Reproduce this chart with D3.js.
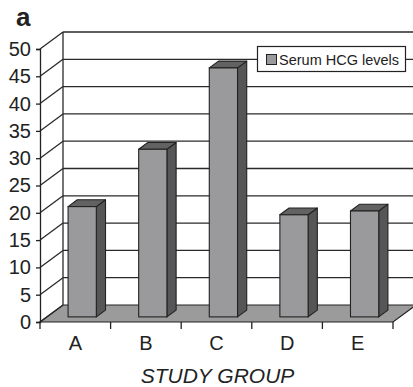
<!DOCTYPE html>
<html>
<head>
<meta charset="utf-8">
<script src="https://cdn.jsdelivr.net/npm/d3@7"></script>
<style>
  html, body { margin: 0; padding: 0; background: #fff; }
  svg { display: block; font-family: "Liberation Sans", Arial, sans-serif; }
</style>
</head>
<body>
<svg id="chart" width="413" height="387"></svg>
<script>
// Serum HCG levels per study group
const categories = ["A", "B", "C", "D", "E"];
const hcgValues = [20.2, 30.7, 45.6, 18.7, 19.4];
const yTicks = [0, 5, 10, 15, 20, 25, 30, 35, 40, 45, 50];
const seriesName = "Serum HCG levels";
const xTitle = "STUDY GROUP";
const panelLabel = "a";

const svg = d3.select("#chart");
const ink = "#222";

// front plane of the 3-D box
const plotLeft = 40, plotRight = 393, plotBottom = 322, plotTop = 49;
// depth of the box (shift of the back wall)
const depthX = 23, depthY = -17;

const x = d3.scaleBand().domain(categories).range([plotLeft, plotRight]).paddingInner(0).paddingOuter(0);
const y = d3.scaleLinear().domain([0, 50]).range([plotBottom, plotTop]);

const g = svg.append("g");

// floor
g.append("path")
  .attr("d", `M${plotLeft},${plotBottom} L${plotRight},${plotBottom} L${plotRight + depthX},${plotBottom + depthY} L${plotLeft + depthX},${plotBottom + depthY} Z`)
  .attr("fill", "#9b9b9b")
  .attr("stroke", ink).attr("stroke-width", 1.2);

// back wall gridlines and left wall diagonals
yTicks.forEach(v => {
  const yy = y(v);
  if (v > 0) {
    g.append("line")
      .attr("x1", plotLeft + depthX).attr("x2", 420)
      .attr("y1", yy + depthY).attr("y2", yy + depthY)
      .attr("stroke", "#2a2a2a").attr("stroke-width", 1.3);
  }
  g.append("line")
    .attr("x1", plotLeft).attr("y1", yy)
    .attr("x2", plotLeft + depthX).attr("y2", yy + depthY)
    .attr("stroke", "#2a2a2a").attr("stroke-width", 1.3);
});

// back wall left edge
g.append("line")
  .attr("x1", plotLeft + depthX).attr("x2", plotLeft + depthX)
  .attr("y1", y(50) + depthY).attr("y2", y(0) + depthY)
  .attr("stroke", "#2a2a2a").attr("stroke-width", 1.3);

// legend (sits on the back wall)
const legend = g.append("g");
legend.append("rect")
  .attr("x", 257.5).attr("y", 46.5).attr("width", 148).attr("height", 25)
  .attr("fill", "#fff").attr("stroke", ink).attr("stroke-width", 1.2);
legend.append("rect")
  .attr("x", 266.5).attr("y", 54.5).attr("width", 10).attr("height", 10)
  .attr("fill", "#9a9a9c").attr("stroke", ink).attr("stroke-width", 1);
legend.append("text")
  .attr("x", 279).attr("y", 64.5)
  .attr("font-size", 14.5).attr("fill", ink)
  .text(seriesName);

// 3-D bars: front face placed 30% into the depth, 40% deep
const f0 = 0.3, fd = 0.4;
const bw = x.bandwidth() * 0.4;
const ox = depthX * f0, oy = depthY * f0;
const dx = depthX * fd, dy = depthY * fd;

const bars = g.selectAll(".bar").data(categories.map((c, i) => ({ c, v: hcgValues[i] })))
  .enter().append("g").attr("class", "bar");

bars.each(function(d) {
  const b = d3.select(this);
  const x0 = x(d.c) + x.bandwidth() / 2 - bw / 2 + ox;
  const x1 = x0 + bw;
  const yb = y(0) + oy;
  const yt = y(d.v) + oy;
  // side face
  b.append("path")
    .attr("d", `M${x1},${yb} L${x1 + dx},${yb + dy} L${x1 + dx},${yt + dy} L${x1},${yt} Z`)
    .attr("fill", "#565656").attr("stroke", ink).attr("stroke-width", 1.1).attr("stroke-linejoin", "round");
  // top face
  b.append("path")
    .attr("d", `M${x0},${yt} L${x1},${yt} L${x1 + dx},${yt + dy} L${x0 + dx},${yt + dy} Z`)
    .attr("fill", "#626262").attr("stroke", ink).attr("stroke-width", 1.1).attr("stroke-linejoin", "round");
  // front face
  b.append("rect")
    .attr("x", x0).attr("y", yt).attr("width", bw).attr("height", yb - yt)
    .attr("fill", "#9a9a9c").attr("stroke", ink).attr("stroke-width", 1.1);
});

// y axis on the front plane
const yAxis = d3.axisLeft(y).tickValues(yTicks).tickSize(4).tickPadding(5).tickFormat(d3.format("d"));
const ya = svg.append("g").attr("transform", `translate(${plotLeft},0)`).call(yAxis);
ya.select(".domain").attr("stroke", ink).attr("stroke-width", 1.3);
ya.selectAll(".tick line").attr("stroke", ink).attr("stroke-width", 1.3);
ya.selectAll(".tick text").attr("font-size", 20).attr("fill", ink)
  .attr("font-family", "Liberation Sans, Arial, sans-serif");

// x axis on the front edge of the floor
const xAxis = d3.axisBottom(x).tickSize(0).tickPadding(14);
const xa = svg.append("g").attr("transform", `translate(0,${plotBottom})`).call(xAxis);
xa.select(".domain").remove();
xa.selectAll(".tick text").attr("font-size", 20).attr("fill", ink)
  .attr("font-family", "Liberation Sans, Arial, sans-serif");
// boundary ticks between groups
const bounds = categories.map(c => x(c)).concat([plotRight]);
xa.selectAll(".bound").data(bounds).enter().append("line")
  .attr("x1", d => d).attr("x2", d => d).attr("y1", 0).attr("y2", 7)
  .attr("stroke", ink).attr("stroke-width", 1.3);

// axis title
svg.append("text")
  .attr("x", (plotLeft + plotRight) / 2 + 1).attr("y", 383)
  .attr("text-anchor", "middle").attr("font-size", 21).attr("font-style", "italic").attr("fill", ink)
  .text(xTitle);

// panel label
svg.append("text")
  .attr("x", 16).attr("y", 26)
  .attr("font-size", 26).attr("font-weight", "bold").attr("fill", ink)
  .text(panelLabel);
</script>
</body>
</html>
